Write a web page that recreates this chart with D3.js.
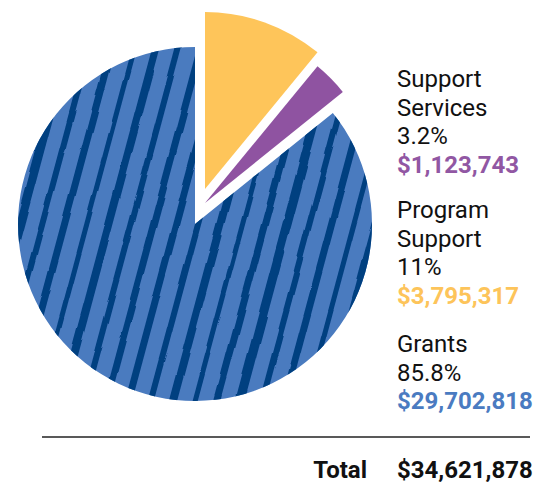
<!DOCTYPE html>
<html><head><meta charset="utf-8">
<script src="https://cdn.jsdelivr.net/npm/d3@7"></script>
<style>
body{margin:0;background:#fff}
svg{display:block}
text{font-family:Roboto,"Noto Sans",sans-serif}
</style></head><body>
<svg id="c" width="549" height="485"></svg>
<script>
// ---- data ----
const categories = ["Program Support", "Support Services", "Grants"];
const amounts = [3795317, 1123743, 29702818];
const percentLabels = ["11%", "3.2%", "85.8%"];
const amountLabels = ["$3,795,317", "$1,123,743", "$29,702,818"];
const totalText = "$34,621,878";
const legendOrder = ["Support Services", "Program Support", "Grants"];
const nameLines = [["Program", "Support"], ["Support", "Services"], ["Grants"]];

// ---- style / layout ----
const colors = ["#fec55a", "#8f53a1", "#4a7bbf"];
const valueColors = ["#fdc45a", "#9157a3", "#4a7bc1"];
const stripeColor = "#003f80";
const explode = [[10, -35], [10, -21], [0, 0]];
const cx = 195, cy = 224, R = 177;

const svg = d3.select("#c");
const defs = svg.append("defs");

const pie = d3.pie().sort(null).value(d => d).startAngle(0).endAngle(2 * Math.PI);
const arcs = pie(amounts);
const arc = d3.arc().innerRadius(0).outerRadius(R);

// roughness filter for stripes
const f = defs.append("filter").attr("id", "rough")
  .attr("filterUnits", "userSpaceOnUse")
  .attr("x", -400).attr("y", -400).attr("width", 800).attr("height", 800);
f.append("feTurbulence").attr("type", "fractalNoise")
  .attr("baseFrequency", "0.02 0.025").attr("numOctaves", 1).attr("seed", 7).attr("result", "n");
f.append("feDisplacementMap").attr("in", "SourceGraphic").attr("in2", "n")
  .attr("scale", 5).attr("xChannelSelector", "R").attr("yChannelSelector", "G");

const g = svg.append("g");
arcs.forEach((a, i) => {
  const sg = g.append("g")
    .attr("transform", `translate(${cx + explode[i][0]},${cy + explode[i][1]})`);
  sg.append("path").attr("d", arc(a)).attr("fill", colors[i]);
  if (categories[i] === "Grants") {
    defs.append("clipPath").attr("id", "clipG")
      .append("path").attr("d", arc(a));
    const stripeWidths = [7, 6, 8, 5, 7, 9, 6, 7, 5, 8, 6, 7];
    const sgr = sg.append("g").attr("clip-path", "url(#clipG)")
      .append("g").attr("filter", "url(#rough)")
      .append("g").attr("transform", "rotate(15)");
    d3.range(-13, 14).forEach((k, j) => {
      const w = stripeWidths[j % stripeWidths.length];
      sgr.append("rect")
        .attr("x", k * 21.5 - w / 2 + 3).attr("y", -260)
        .attr("width", w).attr("height", 520)
        .attr("fill", stripeColor);
    });
  }
});

// ---- legend text ----
const lx = 397, lh = 28.7;
const groupBase = [87, 218, 352];
legendOrder.forEach((name, gi) => {
  const i = categories.indexOf(name);
  const lines = nameLines[i].concat([percentLabels[i]]);
  let y = groupBase[gi];
  lines.forEach(t => {
    svg.append("text").attr("x", lx).attr("y", y)
      .attr("font-size", 24).attr("fill", "#111").text(t);
    y += lh;
  });
  svg.append("text").attr("x", lx).attr("y", y)
    .attr("font-size", 24).attr("font-weight", 700)
    .attr("fill", valueColors[i]).text(amountLabels[i]);
});

// ---- total ----
svg.append("line").attr("x1", 42).attr("x2", 530).attr("y1", 437).attr("y2", 437)
  .attr("stroke", "#222").attr("stroke-width", 1.5);
svg.append("text").attr("x", 367).attr("y", 478).attr("text-anchor", "end")
  .attr("font-size", 24).attr("font-weight", 700).attr("fill", "#111").text("Total");
svg.append("text").attr("x", lx).attr("y", 478)
  .attr("font-size", 24).attr("font-weight", 700).attr("fill", "#111").text(totalText);
</script>
</body></html>
